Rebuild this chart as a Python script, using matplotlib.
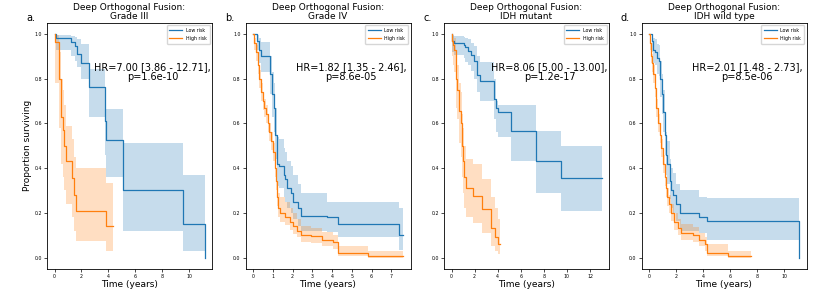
import matplotlib
matplotlib.use("Agg")
import matplotlib.pyplot as plt

# ---------------- data (years, survival proportion, CI) ----------------
titles = ["Deep Orthogonal Fusion:\nGrade III", "Deep Orthogonal Fusion:\nGrade IV",
          "Deep Orthogonal Fusion:\nIDH mutant", "Deep Orthogonal Fusion:\nIDH wild type"]
panel_labels = ["a.", "b.", "c.", "d."]
hr_texts = ["HR=7.00 [3.86 - 12.71],\np=1.6e-10", "HR=1.82 [1.35 - 2.46],\np=8.6e-05",
            "HR=8.06 [5.00 - 13.00],\np=1.2e-17", "HR=2.01 [1.48 - 2.73],\np=8.5e-06"]
group_names = ["Low risk", "High risk"]
x_ticks = [[0, 2, 4, 6, 8, 10], [0, 1, 2, 3, 4, 5, 6, 7], [0, 2, 4, 6, 8, 10, 12], [0, 2, 4, 6, 8, 10]]
y_ticks = [0.0, 0.2, 0.4, 0.6, 0.8, 1.0]

# Panel a: Grade III
a_low_t = [0, 0.10, 1.24, 1.49, 1.69, 1.99, 2.56, 3.72, 3.85, 5.09, 9.55, 11.12]
a_low_s = [1.0, 0.982, 0.963, 0.948, 0.91, 0.87, 0.762, 0.61, 0.527, 0.30, 0.15, 0.0]
a_low_lo = [1.0, 0.926, 0.90, 0.88, 0.85, 0.80, 0.63, 0.46, 0.36, 0.12, 0.03, 0.0]
a_low_hi = [1.0, 0.995, 0.99, 0.985, 0.975, 0.955, 0.845, 0.72, 0.666, 0.51, 0.37, 0.0]
a_high_t = [0, 0.07, 0.37, 0.50, 0.62, 0.74, 0.82, 1.32, 1.44, 1.56, 3.80, 4.34]
a_high_s = [1.0, 0.965, 0.80, 0.63, 0.57, 0.50, 0.43, 0.355, 0.28, 0.21, 0.14, 0.14]
a_high_lo = [1.0, 0.78, 0.58, 0.42, 0.36, 0.30, 0.24, 0.18, 0.12, 0.075, 0.03, 0.03]
a_high_hi = [1.0, 0.995, 0.92, 0.80, 0.75, 0.68, 0.59, 0.53, 0.45, 0.40, 0.335, 0.335]

# Panel b: Grade IV
b_low_t = [0, 0.19, 0.32, 0.41, 0.87, 0.97, 1.04, 1.12, 1.19, 1.34, 1.55, 1.63, 1.73, 1.90,
           2.00, 2.28, 2.41, 3.72, 4.32, 7.37, 7.59]
b_low_s = [1.0, 0.97, 0.93, 0.90, 0.82, 0.73, 0.67, 0.55, 0.42, 0.41, 0.37, 0.35, 0.31, 0.29,
           0.25, 0.22, 0.185, 0.18, 0.15, 0.10, 0.10]
b_low_lo = [1.0, 0.93, 0.87, 0.83, 0.73, 0.63, 0.56, 0.44, 0.32, 0.31, 0.27, 0.25, 0.22, 0.20,
            0.17, 0.14, 0.12, 0.115, 0.09, 0.035, 0.035]
b_low_hi = [1.0, 0.995, 0.98, 0.965, 0.90, 0.83, 0.78, 0.67, 0.54, 0.53, 0.49, 0.47, 0.43, 0.41,
            0.37, 0.33, 0.29, 0.25, 0.25, 0.22, 0.22]
b_high_t = [0, 0.07, 0.15, 0.24, 0.32, 0.41, 0.49, 0.58, 0.66, 0.75, 0.83, 0.92, 1.00, 1.09,
            1.14, 1.19, 1.26, 1.39, 1.60, 1.85, 2.02, 2.24, 2.45, 2.96, 3.47, 4.06, 4.32, 5.84, 7.59]
b_high_s = [1.0, 0.96, 0.92, 0.86, 0.80, 0.74, 0.70, 0.67, 0.64, 0.60, 0.56, 0.52, 0.47, 0.40,
            0.34, 0.27, 0.22, 0.20, 0.18, 0.16, 0.14, 0.12, 0.10, 0.095, 0.08, 0.07, 0.02, 0.005, 0.005]
b_high_lo = [1.0, 0.93, 0.88, 0.82, 0.76, 0.70, 0.66, 0.63, 0.60, 0.56, 0.52, 0.48, 0.43, 0.36,
             0.30, 0.23, 0.18, 0.16, 0.145, 0.125, 0.105, 0.09, 0.07, 0.065, 0.05, 0.04, 0.005, 0.0, 0.0]
b_high_hi = [1.0, 0.98, 0.95, 0.90, 0.84, 0.78, 0.74, 0.71, 0.68, 0.64, 0.60, 0.56, 0.51, 0.44,
             0.38, 0.33, 0.29, 0.27, 0.25, 0.22, 0.20, 0.17, 0.14, 0.13, 0.115, 0.10, 0.05, 0.03, 0.03]

# Panel c: IDH mutant
c_low_t = [0, 0.06, 0.20, 1.04, 1.18, 1.47, 1.70, 1.96, 2.19, 2.48, 3.06, 3.69, 3.87, 4.07,
           5.17, 7.33, 9.49, 13.0]
c_low_s = [1.0, 0.97, 0.96, 0.95, 0.94, 0.925, 0.905, 0.88, 0.815, 0.79, 0.79, 0.71, 0.67, 0.65,
           0.565, 0.43, 0.355, 0.355]
c_low_lo = [1.0, 0.92, 0.905, 0.89, 0.875, 0.86, 0.835, 0.80, 0.74, 0.70, 0.70, 0.62, 0.56, 0.54,
            0.43, 0.29, 0.21, 0.21]
c_low_hi = [1.0, 0.995, 0.99, 0.985, 0.98, 0.975, 0.96, 0.945, 0.90, 0.875, 0.875, 0.80, 0.70, 0.68,
            0.68, 0.565, 0.50, 0.50]
c_high_t = [0, 0.06, 0.14, 0.23, 0.35, 0.46, 0.61, 0.69, 0.81, 0.89, 0.98, 1.10, 1.27, 1.90,
            2.62, 3.40, 3.78, 4.01, 4.21]
c_high_s = [1.0, 0.97, 0.95, 0.93, 0.80, 0.75, 0.70, 0.655, 0.60, 0.50, 0.43, 0.36, 0.31, 0.275,
            0.215, 0.13, 0.09, 0.06, 0.06]
c_high_lo = [1.0, 0.90, 0.86, 0.83, 0.67, 0.62, 0.56, 0.51, 0.45, 0.36, 0.29, 0.22, 0.18, 0.155,
             0.11, 0.05, 0.03, 0.015, 0.015]
c_high_hi = [1.0, 0.995, 0.99, 0.98, 0.90, 0.86, 0.82, 0.78, 0.74, 0.64, 0.58, 0.50, 0.44, 0.42,
             0.35, 0.27, 0.22, 0.17, 0.17]

# Panel d: IDH wild type
d_low_t = [0, 0.22, 0.29, 0.42, 0.59, 0.74, 0.84, 0.96, 1.06, 1.15, 1.23, 1.35, 1.52, 1.65, 1.77,
           2.01, 2.26, 2.43, 3.73, 4.30, 11.11]
d_low_s = [1.0, 0.97, 0.93, 0.92, 0.89, 0.88, 0.80, 0.73, 0.65, 0.55, 0.46, 0.42, 0.34, 0.30, 0.28,
           0.24, 0.20, 0.20, 0.18, 0.165, 0.0]
d_low_lo = [1.0, 0.92, 0.87, 0.86, 0.82, 0.81, 0.72, 0.64, 0.56, 0.46, 0.37, 0.33, 0.26, 0.22, 0.20,
            0.165, 0.13, 0.12, 0.11, 0.08, 0.0]
d_low_hi = [1.0, 0.995, 0.98, 0.975, 0.955, 0.95, 0.88, 0.82, 0.75, 0.65, 0.56, 0.52, 0.44, 0.40, 0.38,
            0.33, 0.30, 0.30, 0.27, 0.265, 0.0]
d_high_t = [0, 0.05, 0.12, 0.22, 0.32, 0.42, 0.54, 0.66, 0.79, 0.91, 1.03, 1.15, 1.23, 1.33, 1.47,
            1.65, 1.84, 2.14, 2.38, 3.24, 3.73, 4.15, 4.30, 5.82, 7.54]
d_high_s = [1.0, 0.96, 0.90, 0.87, 0.82, 0.76, 0.67, 0.60, 0.55, 0.49, 0.42, 0.36, 0.31, 0.27, 0.24,
            0.20, 0.16, 0.13, 0.11, 0.10, 0.08, 0.06, 0.02, 0.005, 0.005]
d_high_lo = [1.0, 0.93, 0.87, 0.83, 0.78, 0.72, 0.63, 0.56, 0.51, 0.45, 0.38, 0.32, 0.27, 0.23, 0.20,
             0.165, 0.125, 0.10, 0.08, 0.07, 0.05, 0.03, 0.005, 0.0, 0.0]
d_high_hi = [1.0, 0.98, 0.93, 0.91, 0.86, 0.80, 0.71, 0.64, 0.59, 0.53, 0.46, 0.40, 0.35, 0.31, 0.28,
             0.24, 0.20, 0.17, 0.15, 0.135, 0.11, 0.09, 0.06, 0.03, 0.03]

panels = [
    [(a_low_t, a_low_s, a_low_lo, a_low_hi), (a_high_t, a_high_s, a_high_lo, a_high_hi)],
    [(b_low_t, b_low_s, b_low_lo, b_low_hi), (b_high_t, b_high_s, b_high_lo, b_high_hi)],
    [(c_low_t, c_low_s, c_low_lo, c_low_hi), (c_high_t, c_high_s, c_high_lo, c_high_hi)],
    [(d_low_t, d_low_s, d_low_lo, d_low_hi), (d_high_t, d_high_s, d_high_lo, d_high_hi)],
]

colors = ["#1f77b4", "#ff7f0e"]

# ---------------- figure ----------------
W, H = 830, 293
fig = plt.figure(figsize=(W / 100, H / 100), dpi=100)
lefts_px = [47, 245.5, 444, 641.5]
width_px = 165
bottom_px, top_px = 268.7, 22.7

for i, ax_left in enumerate(lefts_px):
    ax = fig.add_axes([ax_left / W, 1 - bottom_px / H, width_px / W, (bottom_px - top_px) / H])
    for (t, s, lo, hi), col, name in zip(panels[i], colors, group_names):
        ax.fill_between(t, lo, hi, step="post", color=col, alpha=0.25, linewidth=0)
        ax.step(t, s, where="post", color=col, lw=0.9, label=name)
    ax.set_ylim(-0.05, 1.05)
    ax.set_yticks(y_ticks)
    ax.set_xticks(x_ticks[i])
    ax.tick_params(labelsize=3.4, length=2, width=0.5, pad=1.5)
    for sp in ax.spines.values():
        sp.set_linewidth(0.6)
    ax.set_title(titles[i], fontsize=6.5, pad=2.5, linespacing=1.1)
    ax.set_xlabel("Time (years)", fontsize=6.5, labelpad=1)
    if i == 0:
        ax.set_ylabel("Proportion surviving", fontsize=6.5, labelpad=1.5)
    ax.text(-0.125, 1.008, panel_labels[i], transform=ax.transAxes, fontsize=7,
            ha="left", va="baseline")
    ax.text(0.64, 0.80, hr_texts[i], transform=ax.transAxes, fontsize=7,
            ha="center", va="center", multialignment="center", linespacing=1.05)
    ax.legend(loc="upper right", fontsize=3.4, handlelength=2.7, framealpha=0.8,
              borderpad=0.6, labelspacing=0.6, edgecolor="#cccccc", fancybox=True)

fig.savefig("out.png", dpi=100)
